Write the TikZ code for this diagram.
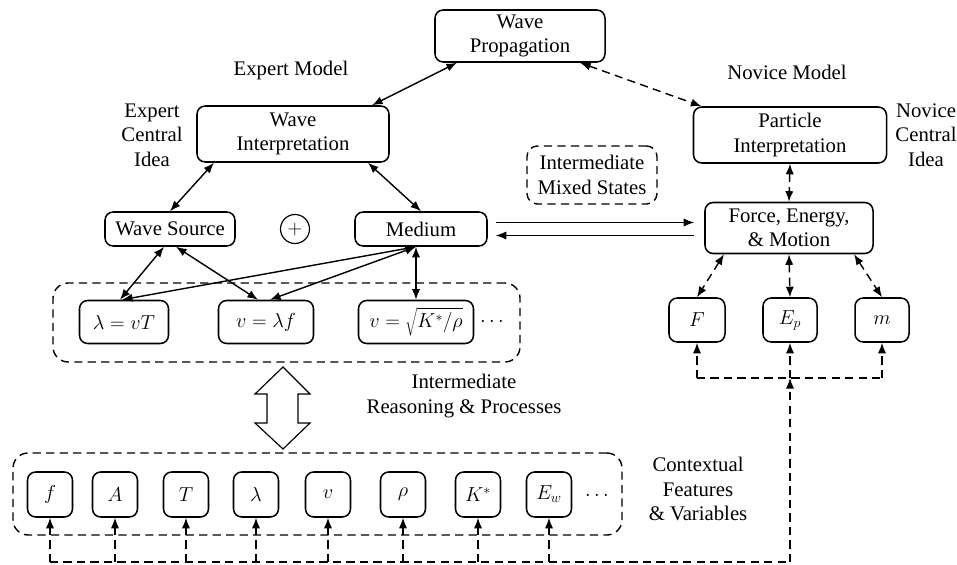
\documentclass[tikz,border=0pt]{standalone}
\usepackage{fontspec}
\setmainfont{Liberation Serif}
\usetikzlibrary{positioning,calc,arrows.meta}

\tikzset{
  box/.style={draw,rounded corners=7pt,line width=1.3pt,align=center,inner sep=2pt},
  varbox/.style={box,minimum width=1.35cm,minimum height=1.35cm},
  grpbox/.style={draw,rounded corners=13pt,line width=1.2pt,dash pattern=on 7pt off 4.5pt},
  dlink/.style={dash pattern=on 7pt off 4.5pt},
  lbl/.style={align=center},
}

\begin{document}
\begin{tikzpicture}[x=0.03cm,y=-0.03cm,>={Latex[length=9pt,width=7pt]},line width=1.2pt,
  font=\fontsize{17.7}{21}\selectfont]
  \useasboundingbox (0,0) rectangle (957,565);
  % groups
  \node[grpbox,minimum width=14.01cm,minimum height=2.37cm] (eqgroup) at (286.5,322.5) {};
  \node[grpbox,minimum width=18.27cm,minimum height=2.46cm] (vargroup) at (317.5,494) {};
  % central ideas
  \node[box,minimum width=5.1cm,minimum height=1.56cm] (wprop) at (520,36) {Wave\\Propagation};
  \node[box,minimum width=5.76cm,minimum height=1.68cm] (winterp) at (293,134) {Wave\\Interpretation};
  \node[box,minimum width=5.79cm,minimum height=1.68cm] (pinterp) at (790,135) {Particle\\Interpretation};
  \node[grpbox,rounded corners=9pt,minimum width=3.9cm,minimum height=1.74cm,align=center] (mixed) at (592,175) {Intermediate\\Mixed States};
  \node[lbl] (expmodel) at (291,71) {Expert Model};
  \node[lbl] (expidea) at (152,135) {Expert\\Central\\Idea};
  \node[lbl] (novmodel) at (787,72) {Novice Model};
  \node[lbl] (novidea) at (926,135) {Novice\\Central\\Idea};
  % second level
  \node[box,minimum width=3.9cm,minimum height=1.02cm] (wsource) at (170,229) {Wave Source};
  \node[draw,circle,line width=1pt,minimum size=0.87cm,inner sep=0pt] (oplus) at (295,229) {$+$};
  \node[box,minimum width=3.96cm,minimum height=1.02cm] (medium) at (421,229) {Medium};
  \node[box,minimum width=5.04cm,minimum height=1.53cm] (force) at (789,228) {Force, Energy,\\\& Motion};
  % relations
  \node[box,minimum width=2.67cm,minimum height=1.29cm] (eq1) at (124,322) {$\lambda=vT$};
  \node[box,minimum width=2.85cm,minimum height=1.29cm] (eq2) at (266,322) {$v=\lambda f$};
  \node[box,minimum width=3.45cm,minimum height=1.29cm] (eq3) at (416,322) {$v=\sqrt{K^*/\rho}$};
  \node (eqdots) at (492,322) {$\cdots$};
  \node[lbl] (reason) at (464,396) {Intermediate\\Reasoning \& Processes};
  \node[box,minimum width=1.68cm,minimum height=1.32cm] (F) at (697,320) {$F$};
  \node[box,minimum width=1.62cm,minimum height=1.32cm] (Ep) at (790,320) {$E_p$};
  \node[box,minimum width=1.62cm,minimum height=1.32cm] (m) at (882,320) {$m$};
  % variables
  \foreach \x/\name/\sym in {50/vf/f,115/vA/A,186/vT/T,256/vlam/\lambda,328/vv/v,403/vrho/\rho,478/vK/K^*,549/vEw/E_w}
    \node[varbox] (\name) at (\x,494.5) {$\sym$};
  \node (vardots) at (597,496) {$\cdots$};
  \node[lbl] (context) at (698,489) {Contextual\\Features\\\& Variables};
  % double arrow between the groups
  \draw[line width=1pt] (283,367) -- (310,394) -- (298,394) -- (298,423) -- (310,423) -- (283,449)
    -- (255,423) -- (267,423) -- (267,394) -- (255,394) -- cycle;
  % expert links
  \draw[<->] (winterp.20) -- (wprop.203);
  \draw[<->,dlink] (wprop.-24) -- (pinterp.162);
  \draw[<->] (winterp.200) -- (wsource.north);
  \draw[<->] (winterp.339) -- (medium.north);
  \coordinate (mfoot) at ($(medium.south)+(-5,0)$);
  \draw[<->] ($(wsource.south)+(-6,0)$) -- ($(eq1.north)+(-4,0)$);
  \draw[<->] ($(wsource.south)+(6,0)$) -- ($(eq2.north)+(-8,0)$);
  \draw[<->] (mfoot) -- ($(eq1.north)+(-2,0)$);
  \draw[<->] (mfoot) -- ($(eq2.north)+(4,0)$);
  \draw[<->] (mfoot) -- (mfoot |- eq3.north);
  % between the models
  \draw[->] ($(medium.east)+(8,-6.5)$) -- ($(medium.east -| force.west)+(-10,-6.5)$);
  \draw[<-] ($(medium.east)+(8,6.5)$) -- ($(medium.east -| force.west)+(-10,6.5)$);
  % novice links
  \draw[<->,dlink] (pinterp.south) -- (force.north);
  \draw[<->,dlink] (force.202) -- (F.north);
  \draw[<->,dlink] (force.south) -- (Ep.north);
  \draw[<->,dlink] (force.338) -- (m.north);
  % buses
  \coordinate (nbus) at (0,378);
  \coordinate (vbus) at (0,562);
  \draw[dlink] (F.south |- nbus) -- (m.south |- nbus);
  \foreach \v in {F,Ep,m}
    \draw[->,dlink] (\v.south |- nbus) -- (\v.south);
  \draw[dlink] (vf.south |- vbus) -- (Ep.south |- vbus);
  \draw[->,dlink] (Ep.south |- vbus) -- (Ep.south |- nbus);
  \foreach \v in {vf,vA,vT,vlam,vv,vrho,vK,vEw}
    \draw[->,dlink] (\v.south |- vbus) -- (\v.south);
\end{tikzpicture}
\end{document}
